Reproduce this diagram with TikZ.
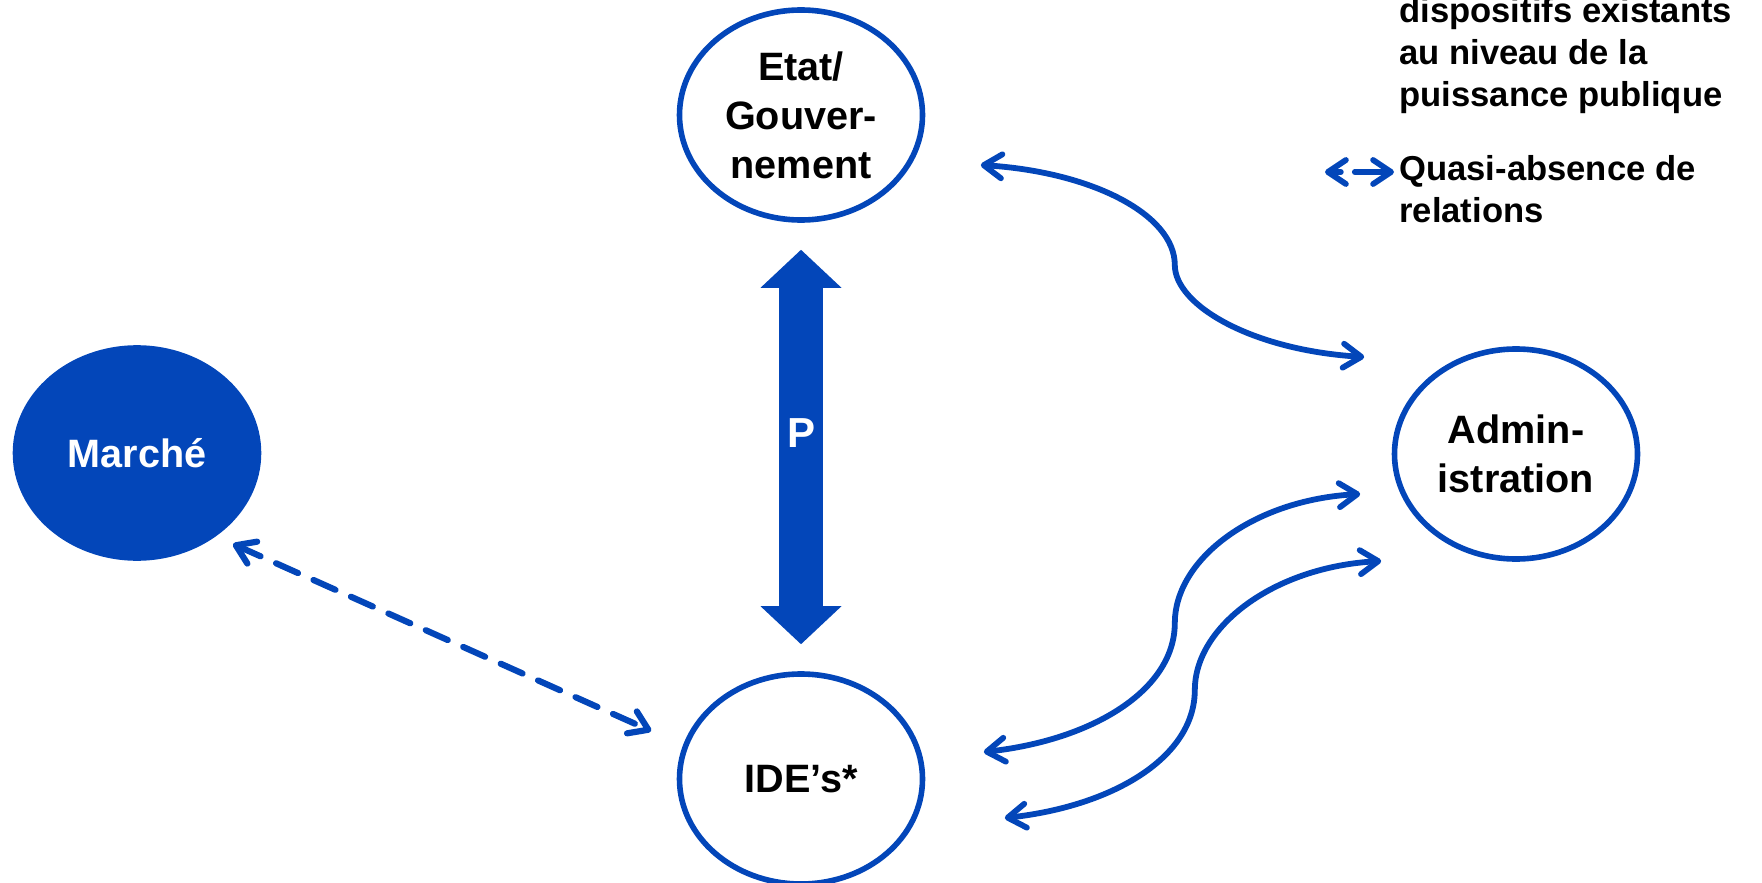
\documentclass[tikz,border=0pt]{standalone}
\usepackage{fontspec}
\setmainfont{Liberation Sans}
\usetikzlibrary{arrows.meta,shapes.geometric}
\definecolor{bleu}{RGB}{3,70,185}
\begin{document}
\begin{tikzpicture}[x=0.5pt,y=-0.5pt,line join=round,line cap=round,
		font=\bfseries\fontsize{19.8}{24.5}\selectfont,
		acteur/.style={ellipse,draw=bleu,line width=2.8pt,minimum width=121.5pt,minimum height=105pt,inner sep=0pt,align=center},
		marche/.style={acteur,fill=bleu,text=white},
		lien/.style={draw=bleu,line width=2.9pt,{Straight Barb[length=9pt,width=12pt,round]}-{Straight Barb[length=9pt,width=12pt,round]}},
		faible/.style={lien,line width=3.1pt,dash pattern=on 12pt off 8.5pt},
		pouvoir/.style={draw=bleu,line width=22pt,line cap=butt,{Triangle[length=19pt,width=40.5pt,line width=0pt]}-{Triangle[length=19pt,width=40.5pt,line width=0pt]}},
		legende/.style={anchor=base west,inner sep=0pt,align=left,font=\bfseries\fontsize{17.3}{21}\selectfont}]
	\useasboundingbox (0,0) rectangle (1762,883);
	% acteurs
	\node[acteur] (etat) at (801,115) {Etat/\\Gouver-\\nement};
	\node[acteur] (ide) at (801,779) {IDE’s*};
	\node[acteur] (admin) at (1516,454) {Admin-\\istration};
	\node[marche] (marche) at (137,453) {Marché};
	% relations
	\draw[pouvoir,shorten <=13.5pt,shorten >=13.5pt] (etat) -- node[pos=.47,text=white,font=\bfseries\fontsize{21}{24}\selectfont]{P} (ide);
	\draw[lien] ([shift={(55.5,50)}]etat.east) .. controls +(112,7) and +(0,-50) .. ++(194,100)
		.. controls +(0,40) and +(-113,-7) .. ([shift={(-27.5,-97)}]admin.west);
	\draw[lien] ([shift={(58.5,-27)}]ide.east) .. controls +(109,-12) and +(0,67) .. ++(191,-129)
		.. controls +(0,-63) and +(-108,6) .. ([shift={(-31.5,40)}]admin.west);
	\draw[lien] ([shift={(79.5,39)}]ide.east) .. controls +(109,-12) and +(0,67) .. ++(190,-128)
		.. controls +(0,-63) and +(-108,6) .. ([shift={(-10.5,107)}]admin.west);
	\draw[faible] ([shift={(96,91)}]marche.center) -- ([shift={(-25.5,-48)}]ide.west);
	% legende
	\node[legende] (leg1) at (1399,107) {dispositifs existants\\au niveau de la\\puissance publique};
	\node[legende] (leg2) at (1399,222) {Quasi-absence de\\relations};
	\draw[faible,line width=2.9pt,dash pattern=on 5pt off 7pt on 30pt] ([shift={(-74,-50)}]leg2.base west) -- ([shift={(-5,-50)}]leg2.base west);
\end{tikzpicture}
\end{document}
